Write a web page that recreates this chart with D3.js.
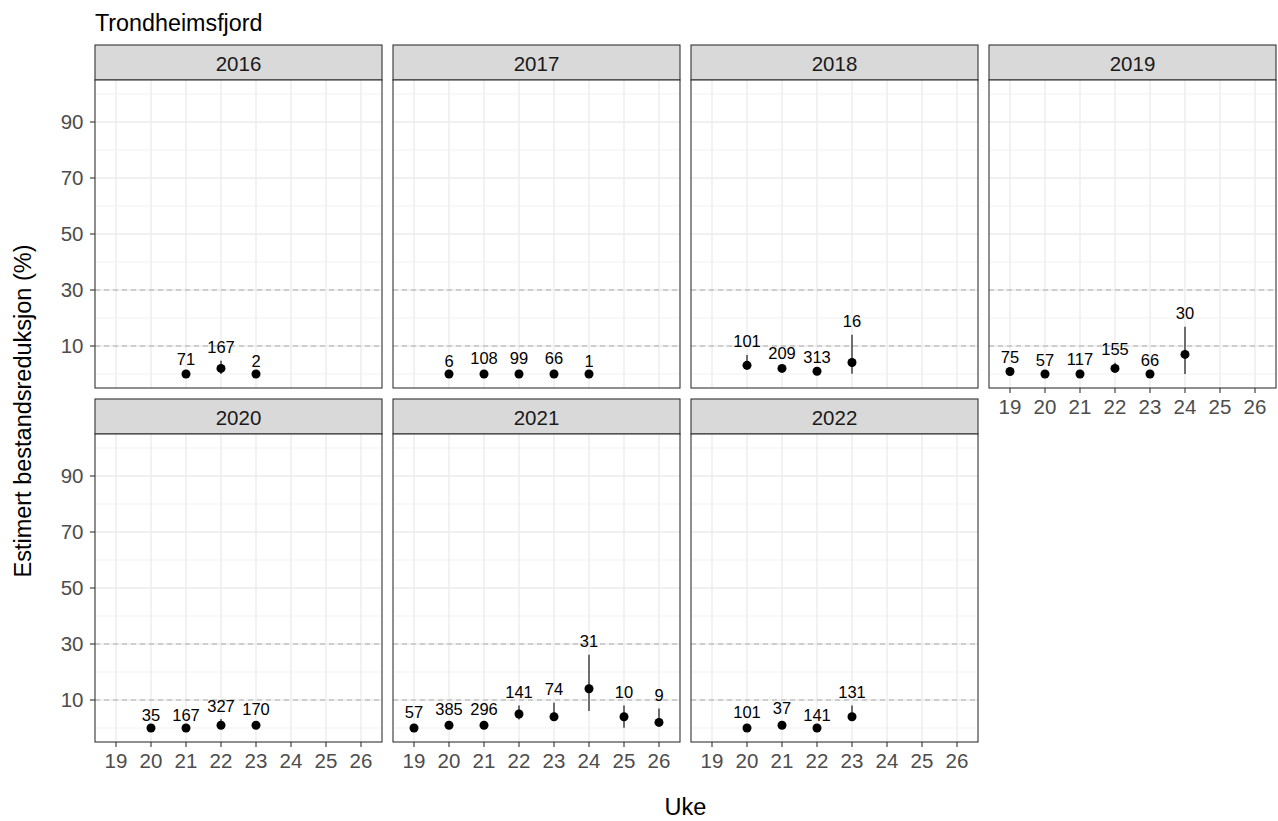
<!DOCTYPE html>
<html>
<head>
<meta charset="utf-8">
<script src="https://cdn.jsdelivr.net/npm/d3@7"></script>
<style>
  body { margin: 0; background: #fff; }
  text { font-family: "Liberation Sans", Arial, sans-serif; }
</style>
</head>
<body>
<div></div>
<script>
// panels in facet order
const years = ["2016", "2017", "2018", "2019", "2020", "2021", "2022"];
const weeks = ["19", "20", "21", "22", "23", "24", "25", "26"];

// one inner array per year
const panelWeeks = [
  ["21", "22", "23"],
  ["20", "21", "22", "23", "24"],
  ["20", "21", "22", "23"],
  ["19", "20", "21", "22", "23", "24"],
  ["20", "21", "22", "23"],
  ["19", "20", "21", "22", "23", "24", "25", "26"],
  ["20", "21", "22", "23"]
];
const panelEst = [
  [0, 2, 0],
  [0, 0, 0, 0, 0],
  [3.1, 2, 1, 4.1],
  [0.9, 0, 0, 2, 0, 7],
  [0, 0, 1, 1],
  [0, 1, 1, 5, 4, 14, 4, 2],
  [0, 1, 0, 4]
];
const panelLow = [
  [0, 0, 0],
  [0, 0, 0, 0, 0],
  [1.5, 1, 0.5, 0.1],
  [0.5, 0, 0, 0.8, 0, 0],
  [0, 0, 0.5, 0.5],
  [0, 0.5, 0.5, 3, 2.5, 6.1, 0.1, 1],
  [0, 0.5, 0, 2.5]
];
const panelHigh = [
  [0.5, 4.7, 0],
  [0, 0.8, 0.8, 0.8, 0],
  [6.8, 2.6, 1.4, 14],
  [1.1, 0.2, 0.6, 4, 0.1, 16.9],
  [0, 0, 3.2, 1.9],
  [1, 2, 2, 8, 9, 26.2, 8, 7],
  [1, 2.2, 0, 8]
];
const panelN = [
  [71, 167, 2],
  [6, 108, 99, 66, 1],
  [101, 209, 313, 16],
  [75, 57, 117, 155, 66, 30],
  [35, 167, 327, 170],
  [57, 385, 296, 141, 74, 31, 10, 9],
  [101, 37, 141, 131]
];

const yMajor = [10, 30, 50, 70, 90];
const yMinor = [0, 20, 40, 60, 80, 100];
const refLines = [10, 30];

const W = 1278, H = 821;
const svg = d3.select("div").append("svg").attr("width", W).attr("height", H);

const colX = [95, 393, 691, 989];
const rowY = [45, 399];
const panelW = 287;
const stripH = 35;
const panelH = 308;

const x = d3.scalePoint().domain(weeks).range([0, panelW]).padding(0.6);
const y = d3.scaleLinear().domain([-5, 105]).range([panelH, 0]);

const grey30 = "#4d4d4d";

years.forEach((yr, i) => {
  const col = i % 4;
  const row = Math.floor(i / 4);
  const left = colX[col];
  const top = rowY[row];

  // strip
  svg.append("rect")
    .attr("x", left).attr("y", top)
    .attr("width", panelW).attr("height", stripH)
    .attr("fill", "#d9d9d9").attr("stroke", "#333").attr("stroke-width", 1.1);
  svg.append("text")
    .text(yr)
    .attr("x", left + panelW / 2).attr("y", top + 25.5)
    .attr("text-anchor", "middle")
    .attr("font-size", 20.5).attr("fill", "#1a1a1a");

  const g = svg.append("g").attr("transform", "translate(" + left + "," + (top + stripH) + ")");

  g.append("rect").attr("width", panelW).attr("height", panelH).attr("fill", "#fff");

  // grid
  g.selectAll(".ymin").data(yMinor).enter().append("line")
    .attr("x1", 0).attr("x2", panelW)
    .attr("y1", (d) => y(d)).attr("y2", (d) => y(d))
    .attr("stroke", "#ebebeb").attr("stroke-width", 0.7);
  g.selectAll(".ymaj").data(yMajor).enter().append("line")
    .attr("x1", 0).attr("x2", panelW)
    .attr("y1", (d) => y(d)).attr("y2", (d) => y(d))
    .attr("stroke", "#ebebeb").attr("stroke-width", 1.3);
  g.selectAll(".xmaj").data(weeks).enter().append("line")
    .attr("x1", (d) => x(d)).attr("x2", (d) => x(d))
    .attr("y1", 0).attr("y2", panelH)
    .attr("stroke", "#ebebeb").attr("stroke-width", 1.3);

  // dashed reference lines
  g.selectAll(".ref").data(refLines).enter().append("line")
    .attr("x1", 0).attr("x2", panelW)
    .attr("y1", (d) => y(d)).attr("y2", (d) => y(d))
    .attr("stroke", "#ababab").attr("stroke-width", 1)
    .attr("stroke-dasharray", "5,4");

  const pts = panelWeeks[i].map((w, j) => ({
    w: w, est: panelEst[i][j], lo: panelLow[i][j], hi: panelHigh[i][j], n: panelN[i][j]
  }));

  g.selectAll(".err").data(pts).enter().append("line")
    .attr("x1", (d) => x(d.w)).attr("x2", (d) => x(d.w))
    .attr("y1", (d) => y(d.lo)).attr("y2", (d) => y(d.hi))
    .attr("stroke", "#000").attr("stroke-width", 1.1);

  g.selectAll(".pt").data(pts).enter().append("circle")
    .attr("cx", (d) => x(d.w)).attr("cy", (d) => y(d.est))
    .attr("r", 4.5).attr("fill", "#000");

  g.selectAll(".lab").data(pts).enter().append("text")
    .text((d) => d.n)
    .attr("x", (d) => x(d.w)).attr("y", (d) => y(d.hi) - 7.5)
    .attr("text-anchor", "middle")
    .attr("font-size", 16.5).attr("fill", "#000");

  // border
  g.append("rect").attr("width", panelW).attr("height", panelH)
    .attr("fill", "none").attr("stroke", "#333").attr("stroke-width", 1.1);

  // y axis on first column
  if (col === 0) {
    g.selectAll(".ytick").data(yMajor).enter().append("line")
      .attr("x1", -5).attr("x2", 0)
      .attr("y1", (d) => y(d)).attr("y2", (d) => y(d))
      .attr("stroke", "#333").attr("stroke-width", 1.1);
    g.selectAll(".ylab").data(yMajor).enter().append("text")
      .text((d) => d)
      .attr("x", -11.5).attr("y", (d) => y(d)).attr("dy", "0.36em")
      .attr("text-anchor", "end")
      .attr("font-size", 20.5).attr("fill", grey30);
  }

  // x axis where no panel sits below
  if (row === 1 || i + 4 >= years.length) {
    g.selectAll(".xtick").data(weeks).enter().append("line")
      .attr("x1", (d) => x(d)).attr("x2", (d) => x(d))
      .attr("y1", panelH).attr("y2", panelH + 5)
      .attr("stroke", "#333").attr("stroke-width", 1.1);
    g.selectAll(".xlab").data(weeks).enter().append("text")
      .text((d) => d)
      .attr("x", (d) => x(d)).attr("y", panelH + 25.5)
      .attr("text-anchor", "middle")
      .attr("font-size", 20.5).attr("fill", grey30);
  }
});

svg.append("text")
  .text("Trondheimsfjord")
  .attr("x", 95).attr("y", 31)
  .attr("font-size", 23.3).attr("fill", "#000");

svg.append("text")
  .text("Uke")
  .attr("x", 685.5).attr("y", 815)
  .attr("text-anchor", "middle")
  .attr("font-size", 23.5).attr("fill", "#000");

svg.append("text")
  .text("Estimert bestandsreduksjon (%)")
  .attr("transform", "translate(31,411) rotate(-90)")
  .attr("text-anchor", "middle")
  .attr("font-size", 23.5).attr("fill", "#000");
</script>
</body>
</html>
